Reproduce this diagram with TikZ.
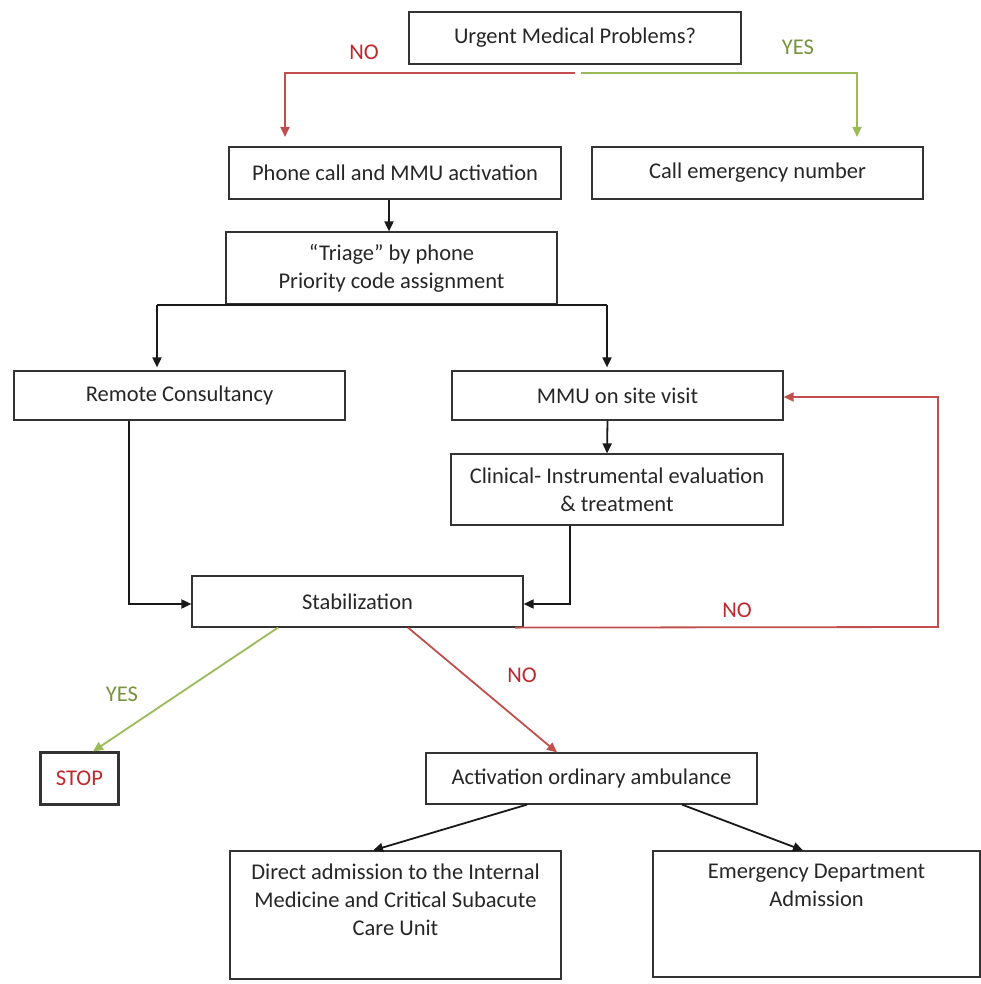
\documentclass[tikz,border=0pt]{standalone}
\usepackage{fontspec}
\setmainfont{Carlito}
\usetikzlibrary{arrows.meta}
\definecolor{boxline}{HTML}{333333}
\definecolor{noline}{HTML}{C0504D}
\definecolor{notext}{HTML}{C0282D}
\definecolor{yesline}{HTML}{9BBB59}
\definecolor{yestext}{HTML}{77933C}
\begin{document}
\begin{tikzpicture}[x=1pt,y=-1pt,
  box/.style={draw=boxline,line width=1.2pt,inner sep=0pt,align=center,
    font=\fontsize{22.5}{28}\selectfont,text=black!85},
  boxtext/.style={inner sep=0pt,align=center,font=\fontsize{22.5}{28}\selectfont,text=black!85},
  tip/.style={-{Triangle[length=10pt,width=9pt]}},
  flow/.style={draw=black!90,line width=1.8pt},
  nopath/.style={draw=noline,line width=1.8pt},
  yespath/.style={draw=yesline,line width=1.8pt},
  nolabel/.style={text=notext,font=\fontsize{22.5}{26}\selectfont,inner sep=0pt},
  yeslabel/.style={text=yestext,font=\fontsize{22.5}{26}\selectfont,inner sep=0pt}]
\useasboundingbox (0,0) rectangle (981,984);

% boxes
\node[box,minimum width=332pt,minimum height=52pt] (urgent) at (575,38) {Urgent Medical Problems?};
\node[box,minimum width=332pt,minimum height=52pt] (phone) at (395,173) {Phone call and MMU activation};
\node[box,minimum width=331pt,minimum height=52pt] (call) at (757.5,173) {Call emergency number};
\node[box,minimum width=331pt,minimum height=72pt] (triage) at (391.5,268) {“Triage” by phone\\Priority code assignment};
\node[box,minimum width=331pt,minimum height=49pt] (remote) at (179.5,395.5) {Remote Consultancy};
\node[box,minimum width=331pt,minimum height=49pt] (mmu) at (617.5,395.5) {MMU on site visit};
\node[box,minimum width=332pt,minimum height=71pt] (clinical) at (617,489.5) {Clinical- Instrumental evaluation\\\& treatment};
\node[box,minimum width=331pt,minimum height=51pt] (stab) at (357.5,601.5) {Stabilization};
\node[box,line width=2.2pt,minimum width=78pt,minimum height=52pt,text=notext] (stop) at (79.5,778.5) {STOP};
\node[box,minimum width=331pt,minimum height=51pt] (amb) at (591.5,778.5) {Activation ordinary ambulance};
\node[box,minimum width=331pt,minimum height=128pt] (direct) at (395.5,915) {};
\node[boxtext,anchor=north] (directtxt) at ([yshift=-13pt]direct.north) {Direct admission to the Internal\\Medicine and Critical Subacute\\Care Unit};
\node[box,minimum width=327pt,minimum height=126pt] (ed) at (816.5,914) {};
\node[boxtext,anchor=north] (edtxt) at ([yshift=-13pt]ed.north) {Emergency Department\\Admission};

% first decision
\coordinate (split) at (575,73);
\coordinate (splitg) at (581,73);
\coordinate (noend) at (285,137);
\coordinate (yesend) at (857,137);
\draw[nopath,tip] (split) -| (noend);
\draw[yespath,tip] (splitg) -| (yesend);
\node[nolabel] (no1) at (364,52) {NO};
\node[yeslabel] (yes1) at (798,47) {YES};

% phone to triage
\draw[flow,tip] ([xshift=-6pt]phone.south) -- ([xshift=-2.5pt]triage.north);

% triage branches
\coordinate (tl) at (157,305);
\coordinate (tr) at (607,305);
\draw[flow] (tl) -- (tr);
\draw[flow,tip] (tl) -- ([yshift=3pt]remote.north -| tl);
\draw[flow,tip] (tr) -- ([yshift=3pt]mmu.north -| tr);

% MMU to clinical
\draw[flow,tip] ([xshift=-10pt]mmu.south) -- ([xshift=-10pt]clinical.north);

% into stabilization
\draw[flow,tip] ([xshift=-50.5pt]remote.south) |- ([yshift=-2.5pt]stab.west);
\draw[flow,tip] ([xshift=-47pt]clinical.south) |- ([yshift=-2.5pt]stab.east);

% not stable: back to MMU
\coordinate (loopcorner) at (938,627);
\draw[nopath,tip] ([xshift=157.5pt]stab.south) -- (loopcorner) |- ([yshift=-1.5pt]mmu.east);
\node[nolabel] (no2) at (737,610) {NO};

% outcome of stabilization
\draw[yespath,tip] ([xshift=-79.5pt]stab.south) -- ([xshift=13.5pt]stop.north);
\node[yeslabel] (yes2) at (122,694) {YES};
\draw[nopath,tip] ([xshift=50.5pt]stab.south) -- ([xshift=-34.5pt]amb.north);
\node[nolabel] (no3) at (522,675) {NO};

% ambulance destinations
\draw[flow,tip] ([xshift=-64.5pt]amb.south) -- ([xshift=-22.5pt]direct.north);
\draw[flow,tip] ([xshift=90.5pt]amb.south) -- ([xshift=-13.5pt]ed.north);
\end{tikzpicture}
\end{document}
